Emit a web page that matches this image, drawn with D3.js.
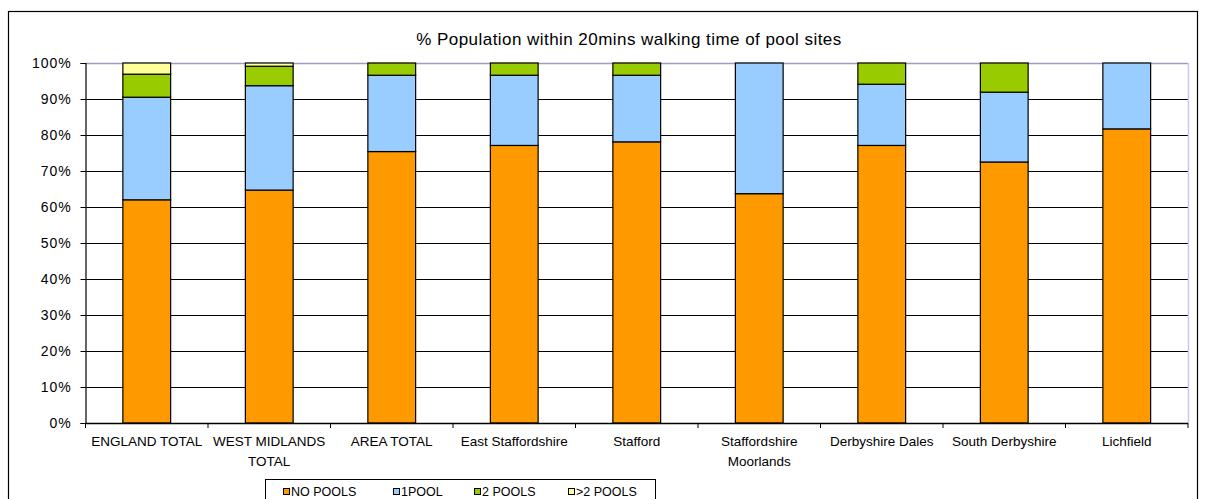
<!DOCTYPE html>
<html>
<head>
<meta charset="utf-8">
<script src="https://cdn.jsdelivr.net/npm/d3@7"></script>
<style>
  html, body { margin: 0; padding: 0; background: #fff; }
  svg { display: block; font-family: "Liberation Sans", Arial, sans-serif; }
</style>
</head>
<body>
<svg id="chart" width="1205" height="499"></svg>
<script>
// Share of population (%) by number of pool sites within a 20 minute walk
const categories = [
  "ENGLAND TOTAL", "WEST MIDLANDS TOTAL", "AREA TOTAL", "East Staffordshire",
  "Stafford", "Staffordshire Moorlands", "Derbyshire Dales", "South Derbyshire", "Lichfield"
];
const categoryLines = [
  ["ENGLAND TOTAL"], ["WEST MIDLANDS", "TOTAL"], ["AREA TOTAL"], ["East Staffordshire"],
  ["Stafford"], ["Staffordshire", "Moorlands"], ["Derbyshire Dales"], ["South Derbyshire"], ["Lichfield"]
];
const noPools   = [62.0, 64.7, 75.4, 77.1, 78.1, 63.7, 77.1, 72.5, 81.7];
const onePool   = [28.5, 29.0, 21.2, 19.5, 18.5, 36.3, 17.0, 19.4, 18.3];
const twoPools  = [6.4,  5.4,  3.4,  3.4,  3.4,  0.0,  5.9,  8.1,  0.0];
const morePools = [3.1,  0.9,  0.0,  0.0,  0.0,  0.0,  0.0,  0.0,  0.0];

const seriesNames = ["NO POOLS", "1POOL", "2 POOLS", ">2 POOLS"];
const seriesKeys = ["noPools", "onePool", "twoPools", "morePools"];
const seriesColors = ["#FF9900", "#99CCFF", "#99CC00", "#FFFF99"];
const yTicks = [0, 10, 20, 30, 40, 50, 60, 70, 80, 90, 100];
const titleText = "% Population within 20mins walking time of pool sites";

const rows = categories.map((c, i) => ({
  category: c,
  noPools: noPools[i], onePool: onePool[i], twoPools: twoPools[i], morePools: morePools[i]
}));

const svg = d3.select("#chart");
const plot = { left: 85.5, right: 1188, top: 63, bottom: 423 };

// Outer chart frame
svg.append("rect")
  .attr("x", 8.5).attr("y", 11.5)
  .attr("width", 1189).attr("height", 520)
  .attr("fill", "none").attr("stroke", "#000").attr("stroke-width", 1.2);

// Title
svg.append("text")
  .attr("x", 629).attr("y", 45)
  .attr("text-anchor", "middle")
  .attr("font-size", 17)
  .attr("letter-spacing", "0.45")
  .attr("fill", "#000")
  .text(titleText);

const x = d3.scaleBand()
  .domain(categories)
  .range([plot.left, plot.right])
  .paddingInner(0.61)
  .paddingOuter(0.305);

const y = d3.scaleLinear().domain([0, 100]).range([plot.bottom, plot.top]);

// Horizontal gridlines
svg.append("g")
  .selectAll("line")
  .data(yTicks.filter(t => t > 0 && t < 100))
  .join("line")
  .attr("x1", plot.left).attr("x2", plot.right)
  .attr("y1", d => Math.round(y(d)) + 0.5).attr("y2", d => Math.round(y(d)) + 0.5)
  .attr("stroke", "#000").attr("stroke-width", 1);

// Plot area border (top and right)
svg.append("line")
  .attr("x1", plot.left).attr("x2", plot.right)
  .attr("y1", plot.top + 0.5).attr("y2", plot.top + 0.5)
  .attr("stroke", "#9c9cc4").attr("stroke-width", 1.5);
svg.append("line")
  .attr("x1", plot.right + 0.5).attr("x2", plot.right + 0.5)
  .attr("y1", plot.top).attr("y2", plot.bottom)
  .attr("stroke", "#c8c8f4").attr("stroke-width", 1.5);

// Stacked bars
const stack = d3.stack().keys(seriesKeys);
const layers = stack(rows);

svg.append("g")
  .selectAll("g")
  .data(layers)
  .join("g")
  .attr("fill", (d, i) => seriesColors[i])
  .selectAll("rect")
  .data(d => d.filter(s => s[1] - s[0] > 0))
  .join("rect")
  .attr("x", d => x(d.data.category))
  .attr("width", x.bandwidth())
  .attr("y", d => y(d[1]))
  .attr("height", d => y(d[0]) - y(d[1]))
  .attr("stroke", "#000")
  .attr("stroke-width", 1.2);

// Y axis
const yAxis = d3.axisLeft(y)
  .tickValues(yTicks)
  .tickFormat(d => d + "%")
  .tickSize(5)
  .tickPadding(9);
const gy = svg.append("g")
  .attr("transform", `translate(${plot.left},0)`)
  .call(yAxis);
gy.select(".domain").attr("stroke", "#000").attr("stroke-width", 1.2);
gy.selectAll(".tick line").attr("stroke", "#000");
gy.selectAll(".tick text")
  .attr("font-size", 14)
  .attr("letter-spacing", "0.9")
  .attr("font-family", "Liberation Sans, Arial, sans-serif")
  .attr("fill", "#000");

// X axis baseline with ticks at category boundaries
const step = x.step();
const boundaries = categories.map(c => x(c) + x.bandwidth() / 2 - step / 2)
  .concat([x(categories[categories.length - 1]) + x.bandwidth() / 2 + step / 2]);

svg.append("line")
  .attr("x1", plot.left).attr("x2", plot.right)
  .attr("y1", plot.bottom + 0.5).attr("y2", plot.bottom + 0.5)
  .attr("stroke", "#000").attr("stroke-width", 1.5);

svg.append("g")
  .selectAll("line")
  .data(boundaries)
  .join("line")
  .attr("x1", d => d).attr("x2", d => d)
  .attr("y1", plot.bottom).attr("y2", plot.bottom + 5)
  .attr("stroke", "#000");

// Category labels (wrapped)
const xl = svg.append("g")
  .selectAll("text")
  .data(categories)
  .join("text")
  .attr("x", d => x(d) + x.bandwidth() / 2)
  .attr("y", 446)
  .attr("text-anchor", "middle")
  .attr("font-size", 13.5)
  .attr("fill", "#000");
xl.selectAll("tspan")
  .data((d, i) => categoryLines[i])
  .join("tspan")
  .attr("x", function() { return d3.select(this.parentNode).attr("x"); })
  .attr("dy", (d, i) => i === 0 ? 0 : 20)
  .text(d => d);

// Legend
const legend = svg.append("g");
legend.append("rect")
  .attr("x", 265.5).attr("y", 479.5)
  .attr("width", 390).attr("height", 40)
  .attr("fill", "#fff").attr("stroke", "#000").attr("stroke-width", 1);

const legendX = [283, 393, 474, 568];
const items = legend.selectAll("g.item")
  .data(seriesNames)
  .join("g")
  .attr("class", "item")
  .attr("transform", (d, i) => `translate(${legendX[i]},0)`);
items.append("rect")
  .attr("x", 0.5).attr("y", 488.5)
  .attr("width", 6).attr("height", 6)
  .attr("fill", (d, i) => seriesColors[i])
  .attr("stroke", "#000").attr("stroke-width", 1);
items.append("text")
  .attr("x", 8).attr("y", 496)
  .attr("font-size", 12.5)
  .attr("fill", "#000")
  .text(d => d);
</script>
</body>
</html>
